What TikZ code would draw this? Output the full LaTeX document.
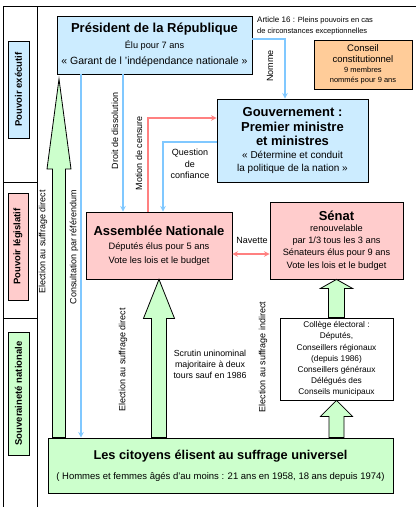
\documentclass[tikz,border=0pt]{standalone}
\usepackage{fontspec}
\setmainfont{Liberation Sans}
\usetikzlibrary{calc}
\tikzset{>=stealth}
\definecolor{exeblue}{RGB}{204,236,255}
\definecolor{legpink}{RGB}{255,204,204}
\definecolor{souvgreen}{RGB}{204,255,204}
\definecolor{ccorange}{RGB}{255,204,153}
\definecolor{linkblue}{RGB}{128,200,255}
\definecolor{linkred}{RGB}{255,128,128}
\tikzset{
  box/.style={draw,line width=0.8pt,inner sep=0pt,align=center},
  sidebox/.style={box,rotate=90,font=\fontsize{9.5}{11}\selectfont\bfseries},
  blue link/.style={linkblue,line width=1.5pt,->},
  red link/.style={linkred,line width=1.5pt,->},
  bigarr/.style={draw,fill=souvgreen,line width=0.8pt},
  lab/.style={font=\fontsize{9}{11.5}\selectfont,inner sep=0pt,align=center},
  vlab/.style={lab,rotate=90},
}
\newcommand{\ttl}{\fontsize{13}{15}\selectfont\bfseries}
\newcommand{\grarrow}[5]{%
  \draw[bigarr] ($(#1 |- #2)+(-#3,0)$) -- ($(#1)+(-#3,#5)$) -- ($(#1)+(-#4,#5)$) -- (#1)
    -- ($(#1)+(#4,#5)$) -- ($(#1)+(#3,#5)$) -- ($(#1 |- #2)+(#3,0)$) -- cycle;}

\begin{document}
\begin{tikzpicture}[x=1pt,y=-1pt]
\useasboundingbox (0,0) rectangle (416,507);
\draw[line width=0.8pt] (3,507) -- (3,6) -- (416,6);
\draw[line width=0.8pt] (37,6) -- (37,507);
\draw[line width=0.8pt] (3,182) -- (37,182);
\draw[line width=0.8pt] (3,318) -- (37,318);

\node[sidebox,fill=exeblue,minimum width=97pt,minimum height=21pt] (exe) at (18.5,89.5) {Pouvoir exécutif};
\node[sidebox,fill=legpink,minimum width=107pt,minimum height=20pt] (leg) at (18,246.5) {Pouvoir législatif};
\node[sidebox,fill=souvgreen,minimum width=123pt,minimum height=21pt] (souv) at (18.5,393.5) {Souveraineté nationale};

\node[box,fill=exeblue,minimum width=195pt,minimum height=58pt,font=\fontsize{10.5}{16}\selectfont] (pres) at (154.5,45)
  {{\ttl Président de la République}\\ {\fontsize{9.2}{10}\selectfont Élu pour 7 ans}\\ « Garant de l 'indépendance nationale »};
\node[lab,font=\fontsize{8}{10.5}\selectfont,anchor=west,align=left] (art) at (257,26)
  {Article 16 : {\fontsize{7.5}{10}\selectfont Pleins pouvoirs en cas}\\ {\fontsize{7.5}{10}\selectfont de circonstances exceptionnelles}};
\node[box,fill=ccorange,minimum width=98pt,minimum height=49pt,font=\fontsize{7.5}{10.3}\selectfont] (cc) at (363,64.5)
  {{\fontsize{9.5}{10}\selectfont Conseil}\\ {\fontsize{9.5}{10}\selectfont constitutionnel}\\ 9 membres\\ nommés pour 9 ans};
\node[box,fill=exeblue,minimum width=151pt,minimum height=83pt,font=\fontsize{10}{14.5}\selectfont] (gouv) at (292.5,140.5)
  {{\ttl Gouvernement :}\\ {\ttl Premier ministre}\\ {\ttl et ministres}\\[-1.5pt] « Détermine et conduit\\[-1.5pt] la politique de la nation »};
\node[box,fill=legpink,minimum width=146pt,minimum height=67pt,font=\fontsize{9.3}{14}\selectfont] (an) at (159,245.5)
  {{\ttl Assemblée Nationale}\\ Députés élus pour 5 ans\\ Vote les lois  et le budget};
\node[box,fill=legpink,minimum width=133pt,minimum height=77pt,font=\fontsize{9.2}{12}\selectfont] (sen) at (336.5,240.5)
  {{\ttl Sénat}\\[-1pt] renouvelable\\ par 1/3 tous les 3 ans\\ Sénateurs élus pour 9 ans\\[1pt] Vote les lois  et le budget};
\node[box,fill=white,minimum width=113pt,minimum height=82pt,font=\fontsize{8.3}{11.2}\selectfont] (col) at (336.5,359)
  {Collège électoral :\\ Députés,\\ Conseillers régionaux\\ (depuis 1986)\\ Conseillers généraux\\ Délégués des\\ Conseils municipaux};
\node[box,fill=souvgreen,minimum width=345pt,minimum height=55pt,font=\fontsize{9.5}{20}\selectfont] (cit) at (220.5,465.5)
  {{\fontsize{12.8}{14}\selectfont\bfseries Les citoyens élisent au suffrage universel}\\ ( Hommes et femmes âgés d'au moins : 21 ans en 1958,  18 ans depuis 1974)};

\coordinate (lefttip) at (59,79);
\grarrow{lefttip}{cit.north}{6.5}{12}{90}
\grarrow{an.south}{cit.north}{7.5}{15.5}{39}
\grarrow{sen.south}{col.north}{8}{16}{9}
\grarrow{col.south}{cit.north}{7.5}{16}{16}

\coordinate (xcons) at (81,0);
\coordinate (xdiss) at (123,0);
\coordinate (xmot) at (148,0);
\coordinate (xquest) at (163,0);
\coordinate (xnom) at (285,0);
\coordinate (ynom) at (0,39);
\coordinate (ymot) at (0,118);
\coordinate (yquest) at (0,142);
\coordinate (ynav) at (0,254);
\draw[blue link] (pres.south -| xcons) -- (cit.north -| xcons);
\draw[blue link] (pres.south -| xdiss) -- (an.north -| xdiss);
\draw[blue link] (pres.east |- ynom) -| (gouv.north -| xnom);
\draw[blue link] (gouv.west |- yquest) -| (an.north -| xquest);
\draw[red link] (an.north -| xmot) |- (gouv.west |- ymot);
\draw[red link,<->] (an.east |- ynav) -- (sen.west |- ynav);

\node[vlab] (lnom) at (270,66) {Nomme};
\node[vlab] (ldiss) at (115,131) {Droit de dissolution};
\node[vlab] (lmot) at (139,153) {Motion de censure};
\node[lab] (lquest) at (190,164) {Question\\ de\\ confiance};
\node[lab] (lnav) at (252,240) {Navette};
\node[vlab] (lcons) at (74,247) {Consultation par référendum};
\node[vlab] (lel1) at (43,242) {Election au suffrage direct};
\node[vlab] (lel2) at (123,360) {Election au suffrage direct};
\node[vlab] (lel3) at (263,357) {Election au suffrage indirect};
\node[lab,font=\fontsize{8.8}{11}\selectfont] (lscr) at (210,364) {Scrutin uninominal\\ majoritaire à deux\\ tours sauf en 1986};
\end{tikzpicture}
\end{document}
